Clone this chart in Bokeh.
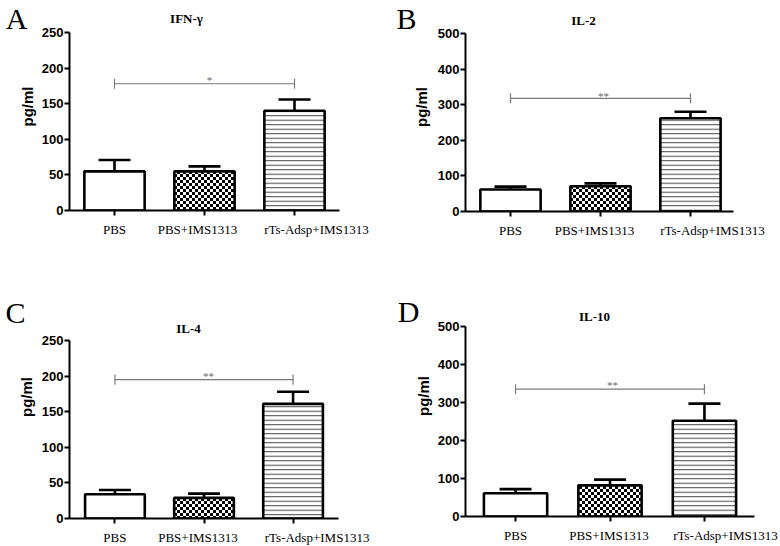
from urllib.parse import quote
from bokeh.plotting import figure
from bokeh.models import (Range1d, FixedTicker, LinearAxis, Whisker, TeeHead,
                          ColumnDataSource, ImageURLTexture, AllLabels)
from bokeh.layouts import row, column
from bokeh.embed import file_html
from bokeh.resources import INLINE
from bokeh.core.properties import value

# ---------------- data ----------------
groups = ["PBS", "PBS+IMS1313", "rTs-Adsp+IMS1313"]
titles = ["IFN-γ", "IL-2", "IL-4", "IL-10"]
letters = ["A", "B", "C", "D"]

ifn_mean = [55, 55, 140]
ifn_err = [16, 7, 16]
il2_mean = [62, 71, 262]
il2_err = [8, 8, 18]
il4_mean = [34, 29, 161]
il4_err = [6, 6, 17]
il10_mean = [61, 82, 252]
il10_err = [11, 15, 45]

y_max = [250, 500, 250, 500]
y_step = [50, 100, 50, 100]
sig_level = [178, 318, 195, 335]
sig_text = ["*", "**", "**", "**"]

means = [ifn_mean, il2_mean, il4_mean, il10_mean]
errs = [ifn_err, il2_err, il4_err, il10_err]

# ---------------- layout / style (pixel positions inside the page) ----------------
# ox, oy: panel origin; fx0/fx1: frame left/right; ft: frame top;
# pt: pixel row of y_max; fy0: pixel row of y = 0.
layout_cfg = [
    dict(ox=0, oy=0, fx0=68, fx1=338, ft=2, pt=32, fy0=210, xr=(-0.5, 2.5),
         lab_off=[0, -7, 22], letter_cy=15, letter_st=-12, title_xy=(185, 18),
         s_dx=5, s_dy=-4, yl_st=3),
    dict(ox=390, oy=0, fx0=465, fx1=733, ft=2, pt=33, fy0=211, xr=(-0.5, 2.478),
         lab_off=[0, -6, 22], letter_cy=15, letter_st=-7, title_xy=(583, 20),
         s_dx=3, s_dy=-2, yl_st=5),
    dict(ox=0, oy=273, fx0=69, fx1=338, ft=275, pt=340, fy0=518, xr=(-0.51, 2.51),
         lab_off=[0, -6, 24], letter_cy=312, letter_st=-11, title_xy=(188, 328),
         s_dx=4.5, s_dy=-4, yl_st=4),
    dict(ox=390, oy=273, fx0=463, fx1=752, ft=275, pt=326, fy0=516, xr=(-0.53, 2.53),
         lab_off=[0, -1, 21], letter_cy=311, letter_st=-8, title_xy=(592, 316),
         s_dx=2.5, s_dy=-4, yl_st=3),
]
PANEL_W = 390
PANEL_H = 273

checker_svg = ("<svg xmlns='http://www.w3.org/2000/svg' width='6' height='6' "
               "shape-rendering='crispEdges'>"
               "<rect width='6' height='6' fill='white'/>"
               "<rect width='3' height='3' fill='black'/>"
               "<rect x='3' y='3' width='3' height='3' fill='black'/></svg>")
checker = ImageURLTexture(url="data:image/svg+xml," + quote(checker_svg))

bar_styles = [
    dict(),
    dict(hatch_pattern=value("checker"), hatch_extra={"checker": checker},
         hatch_scale=6, hatch_color="black"),
    dict(hatch_pattern="horizontal_line", hatch_scale=4.5, hatch_weight=1,
         hatch_color="#444444"),
]

SANS = "Liberation Sans"
SERIF = "Liberation Serif"


def make_chart(k):
    c = layout_cfg[k]
    fl = c["fx0"] - c["ox"]
    fw = c["fx1"] - c["fx0"]
    fr = PANEL_W - fl - fw
    bt = c["ft"] - c["oy"]
    fh = c["fy0"] - c["ft"]
    fb = PANEL_H - bt - fh
    # data value at the top of the frame (the frame reaches above the y axis)
    y_top = y_max[k] * (c["fy0"] - c["ft"]) / (c["fy0"] - c["pt"])

    p = figure(output_backend="svg", toolbar_location=None, title_location=None,
               frame_width=fw, frame_height=fh,
               min_border_left=fl, min_border_right=fr,
               min_border_top=bt, min_border_bottom=fb,
               x_range=Range1d(*c["xr"]), y_range=Range1d(0, y_top),
               background_fill_color="white", border_fill_color="white")
    p.extra_x_ranges = {"px": Range1d(c["fx0"], c["fx1"])}
    p.extra_y_ranges = {"px": Range1d(c["fy0"], c["ft"])}
    p.outline_line_color = None
    p.grid.visible = False

    # x axis: line and ticks
    xa = p.xaxis[0]
    xa.ticker = FixedTicker(ticks=list(range(len(groups))))
    xa.major_label_text_font_size = "0px"
    xa.major_label_text_color = None
    xa.major_label_standoff = 0
    xa.axis_line_width = 2
    xa.major_tick_line_width = 2
    xa.major_tick_out = 5
    xa.major_tick_in = 0
    xa.minor_tick_line_color = None

    # category names (second axis, labels only)
    ppu = fw / (c["xr"][1] - c["xr"][0])
    lab_pos = [round(i + c["lab_off"][i] / ppu, 4) for i in range(len(groups))]
    la = LinearAxis(ticker=FixedTicker(ticks=lab_pos),
                    major_label_overrides=dict(zip(lab_pos, groups)),
                    major_label_policy=AllLabels(),
                    axis_line_color=None, major_tick_line_color=None,
                    minor_tick_line_color=None, major_tick_out=0,
                    major_tick_in=0, major_label_standoff=6,
                    major_label_text_font=SERIF,
                    major_label_text_font_size="13px",
                    major_label_text_color="black")
    p.add_layout(la, "below")

    # y axis (line limited to 0..y_max)
    ya = p.yaxis[0]
    ya.bounds = (0, y_max[k])
    ya.ticker = FixedTicker(ticks=list(range(0, y_max[k] + 1, y_step[k])))
    ya.axis_line_width = 2
    ya.major_tick_line_width = 2
    ya.major_tick_out = 5
    ya.major_tick_in = 0
    ya.minor_tick_line_color = None
    ya.major_label_standoff = 1
    ya.major_label_text_font = SANS
    ya.major_label_text_font_style = "bold"
    ya.major_label_text_font_size = "13px"
    ya.major_label_text_color = "black"
    ya.axis_label = "pg/ml"
    ya.axis_label_text_font = SANS
    ya.axis_label_text_font_style = "bold"
    ya.axis_label_text_font_size = "15px"
    ya.axis_label_text_color = "black"
    ya.axis_label_standoff = c["yl_st"]

    # panel letter (outer left axis carrying a single label)
    lt = c["letter_cy"]
    lax = LinearAxis(y_range_name="px", ticker=FixedTicker(ticks=[lt]),
                     major_label_overrides={lt: letters[k]},
                     axis_line_color=None, major_tick_line_color=None,
                     minor_tick_line_color=None, major_tick_out=0,
                     major_tick_in=0, major_label_standoff=c["letter_st"],
                     major_label_text_font=SERIF,
                     major_label_text_font_size="30px",
                     major_label_text_color="black")
    p.add_layout(lax, "left")

    # panel title
    tx, ty = c["title_xy"]
    p.text(x=[tx], y=[ty], text=[titles[k]], x_range_name="px",
           y_range_name="px", text_font=value(SERIF), text_font_style="bold",
           text_font_size="13px", text_align="center", text_baseline="middle",
           text_color="black")

    # bars
    for i, g in enumerate(groups):
        src = ColumnDataSource(dict(x=[i], top=[means[k][i]]))
        p.vbar(x="x", top="top", width=0.67, source=src, fill_color="white",
               line_color="black", line_width=2.6, **bar_styles[i])

    # error bars (upper only)
    esrc = ColumnDataSource(dict(
        x=list(range(len(groups))),
        lo=means[k],
        hi=[m + e for m, e in zip(means[k], errs[k])]))
    p.add_layout(Whisker(source=esrc, base="x", lower="lo", upper="hi",
                         dimension="height", line_color="black", line_width=2.6,
                         lower_head=None,
                         upper_head=TeeHead(size=32, line_color="black",
                                            line_width=2.6)))

    # significance bracket
    p.add_layout(Whisker(base=sig_level[k], lower=0, upper=len(groups) - 1,
                         dimension="width", line_color="#7a7a7a", line_width=1.2,
                         lower_head=TeeHead(size=10, line_color="#7a7a7a",
                                            line_width=1.2),
                         upper_head=TeeHead(size=10, line_color="#7a7a7a",
                                            line_width=1.2)))
    p.text(x=[(len(groups) - 1) / 2], y=[sig_level[k]], text=[sig_text[k]],
           x_offset=c["s_dx"], y_offset=c["s_dy"], text_align="center",
           text_baseline="alphabetic", text_font=value(SERIF),
           text_font_size="11px", text_color="#666666")
    return p


charts = [make_chart(k) for k in range(4)]
page = row(column(charts[0], charts[2]), column(charts[1], charts[3]))

open("out.html", "w").write(file_html(page, INLINE))
